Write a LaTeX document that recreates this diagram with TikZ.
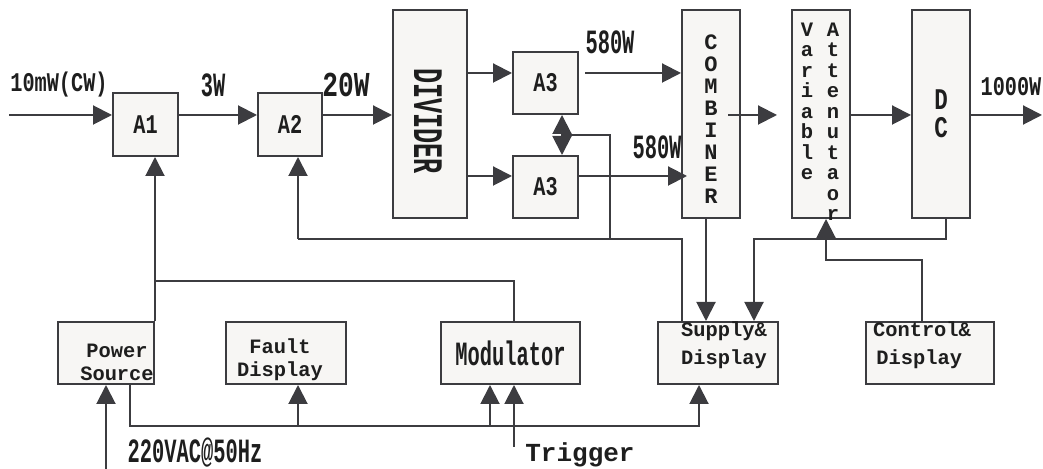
\documentclass[tikz,border=0pt]{standalone}
\usepackage{fontspec}
\newfontfamily\monoA{Liberation Mono}
\newfontfamily\monoB{Liberation Mono}[FakeStretch=0.75]
\newfontfamily\monoC{Liberation Mono}[FakeStretch=0.6]
\usetikzlibrary{arrows.meta}
\definecolor{linec}{HTML}{3C3C40}
\definecolor{boxc}{HTML}{F7F6F4}
\definecolor{txtc}{HTML}{1E1E1E}

\begin{document}
\begin{tikzpicture}[x=0.5pt,y=-0.5pt,>={Triangle[length=9.5pt,width=9.5pt]},
 line width=1pt,draw=linec,
 box/.style={draw=linec,fill=boxc,inner sep=0pt,text=txtc},
 lab/.style={inner sep=0pt,text=txtc},
 fa/.style={font=\monoA\bfseries\fontsize{10.2pt}{12pt}\selectfont},
 fb/.style={font=\monoB\bfseries\fontsize{13.5pt}{15pt}\selectfont},
 fc/.style={font=\monoC\bfseries\fontsize{17pt}{19pt}\selectfont}]
\useasboundingbox (0,0) rectangle (1043,469);
% RF chain
\node[box,fb,minimum width=32.5pt,minimum height=31.5pt] (a1) at (145.5,124.5) {A1};
\node[box,fb,minimum width=32pt,minimum height=31.5pt] (a2) at (290,124.5) {A2};
\node[box,minimum width=37pt,minimum height=104pt] (div) at (430,114) {};
\node[box,fb,minimum width=32.5pt,minimum height=31pt] (a3u) at (545.5,83) {A3};
\node[box,fb,minimum width=32.5pt,minimum height=31pt] (a3l) at (545.5,187) {A3};
\node[box,minimum width=29pt,minimum height=104pt] (comb) at (711,114) {};
\node[box,minimum width=29pt,minimum height=104pt] (va) at (821,114) {};
\node[box,align=center,font=\monoB\bfseries\fontsize{15pt}{14pt}\selectfont,
 minimum width=29pt,minimum height=104pt] (dc) at (941,114) {D\\C};
% lower row
\node[box,minimum width=48pt,minimum height=31pt] (ps) at (106,353) {};
\node[box,minimum width=60pt,minimum height=31pt] (fd) at (286,353) {};
\node[box,fc,minimum width=69.5pt,minimum height=31pt] (mod) at (510.5,353) {Modulator};
\node[box,minimum width=60pt,minimum height=31pt] (sd) at (718,353) {};
\node[box,minimum width=64pt,minimum height=31pt] (cd) at (930,353) {};
% texts
\node[lab,rotate=-90,font=\monoC\bfseries\fontsize{21pt}{22pt}\selectfont] (tdiv) at (428,121) {DIVIDER};
\node[lab,align=center,font=\monoA\bfseries\fontsize{11pt}{11pt}\selectfont] (tcomb) at (711,119.5)
 {C\\O\\M\\B\\I\\N\\E\\R};
\node[lab,align=center,anchor=north,font=\monoA\bfseries\fontsize{10.25pt}{10.25pt}\selectfont] (tvar) at (807,22)
 {V\\a\\r\\i\\a\\b\\l\\e};
\node[lab,align=center,anchor=north,font=\monoA\bfseries\fontsize{10.25pt}{10.25pt}\selectfont] (tatt) at (833,22)
 {A\\t\\t\\e\\n\\u\\t\\a\\o\\r};
\node[lab,align=center,font=\monoA\bfseries\fontsize{10.2pt}{11.5pt}\selectfont] (tps) at (117,362) {Power\\Source};
\node[lab,align=center,font=\monoA\bfseries\fontsize{10.2pt}{11.5pt}\selectfont] (tfd) at (280,360) {Fault\\Display};
\node[lab,align=center,font=\monoA\bfseries\fontsize{10.2pt}{14pt}\selectfont] (tsd) at (724,345) {Supply\&\\Display};
\node[lab,align=left,font=\monoA\bfseries\fontsize{10.2pt}{14pt}\selectfont] (tcd) at (922,345) {Control\&\\\,Display};
\node[lab,fb] (lin) at (59,85) {10mW(CW)};
\node[lab,fc] (l3w) at (213,85) {3W};
\node[lab,font=\monoB\bfseries\fontsize{17.5pt}{19pt}\selectfont] (l20w) at (346,85) {20W};
\node[lab,fc] (l580u) at (610,42) {580W};
\node[lab,fc] (l580l) at (657,147) {580W};
\node[lab,fb] (lout) at (1011,87) {1000W};
\node[lab,fc] (lac) at (195,453) {220VAC@50Hz};
\node[lab,font=\monoA\bfseries\fontsize{13pt}{15pt}\selectfont] (ltrg) at (580,455) {Trigger};
% free ends and junctions
\coordinate (pin) at (9,115);
\coordinate (pout) at (1042,115);
\coordinate (u) at (585,73);
\coordinate (l) at (687,176);
\coordinate (cv) at (728,115);
\coordinate (cvt) at (777,115);
\coordinate (dm) at (562,135);
\coordinate (ja) at (298,239);
\coordinate (js) at (682,239);
\coordinate (jb) at (610,239);
\coordinate (jd) at (754,239);
\coordinate (jc) at (826,260);
\coordinate (jq) at (298,281);
\coordinate (jm) at (514,281);
\coordinate (lo) at (130,426);
\coordinate (trg) at (514,447);
\coordinate (ac) at (106,469);
% RF path
\draw[->] (pin) -- (pin -| a1.west);
\draw[->] (a1.east |- pin) -- (a2.west |- pin);
\draw[->] (a2.east |- pin) -- (div.west |- pin);
\draw[->] (div.east |- u) -- (a3u.west |- u);
\draw[->] (div.east |- l) -- (a3l.west |- l);
\draw[->] (u) -- (u -| comb.west);
\draw[->] (a3l.east |- l) -- (l);
\draw[->] (cv) -- (cvt);
\draw[->] (va.east |- pin) -- (dc.west |- pin);
\draw[->] (dc.east |- pin) -- (pout);
\draw[<->] (dm |- a3u.south) -- (dm |- a3l.north);
% supply lines
\draw (dm) -| (jb);
\draw (ja) -- (js) -- (js |- sd.north);
\draw[->] (ja) -- (ja |- a2.south);
\draw[->] (ps.north east) -- (ps.north east |- a1.south);
\draw (ps.north east |- jq) -- (jm) -- (jm |- mod.north);
\draw[->] ([xshift=-2.5pt]comb.south) -- ([xshift=-2.5pt]comb.south |- sd.north);
\draw[->] ([xshift=2.5pt]dc.south) |- (jd) -- (jd |- sd.north);
\draw[->] ([xshift=-4pt]cd.north) |- (jc) -- (jc |- va.south);
\draw[->] (lo |- ps.south) -- (lo) -| ([xshift=-9.5pt]sd.south);
\draw[->] ([xshift=6pt]fd.south |- lo) -- ([xshift=6pt]fd.south);
\draw[->] ([xshift=-10.25pt]mod.south |- lo) -- ([xshift=-10.25pt]mod.south);
\draw[->] (trg) -- (trg |- mod.south);
\draw[->] (ac) -- (ac |- ps.south);
\end{tikzpicture}
\end{document}
